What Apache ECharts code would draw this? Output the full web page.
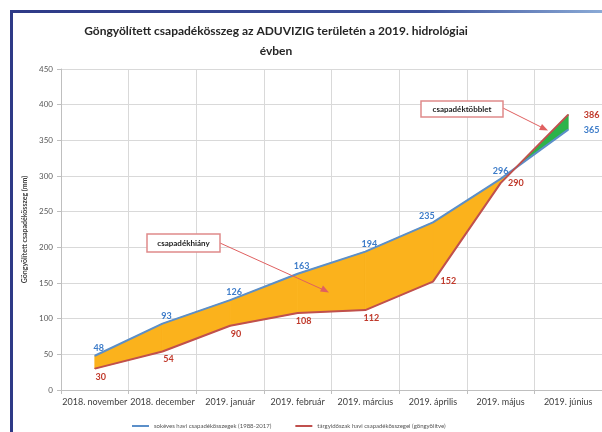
<!DOCTYPE html>
<html>
<head>
<meta charset="utf-8">
<script src="https://cdn.jsdelivr.net/npm/echarts@6/dist/echarts.min.js"></script>
<style>
  html, body { margin: 0; padding: 0; background: #fff; }
  #chart { width: 602px; height: 432px; }
</style>
</head>
<body>
<div id="chart"></div>
<script>
// honapok es ertekek (mm)
var months = ['2018. november', '2018. december', '2019. január', '2019. február',
  '2019. március', '2019. április', '2019. május', '2019. június'];
var longTerm = [48, 93, 126, 163, 194, 235, 296, 365];
var current = [30, 54, 90, 108, 112, 152, 290, 386];
var yTicks = { min: 0, max: 450, interval: 50 };

var FONT = 'Lato';
var BLUE = '#5b8fc9';
var RED = '#c0504d';
var ORANGE = '#fbb21c';
var GREEN = '#2db34a';

// szakaszok a kitolteshez
var segments = [];
for (var i = 0; i < months.length - 1; i++) {
  segments.push([i, longTerm[i], current[i], longTerm[i + 1], current[i + 1]]);
}

function poly(points, color) {
  return { type: 'polygon', shape: { points: points }, style: { fill: color, stroke: color, lineWidth: 0.8 } };
}

function renderBand(params, api) {
  var i = api.value(0);
  var b0 = api.coord([i, api.value(1)]), r0 = api.coord([i, api.value(2)]);
  var b1 = api.coord([i + 1, api.value(3)]), r1 = api.coord([i + 1, api.value(4)]);
  var d0 = api.value(1) - api.value(2), d1 = api.value(3) - api.value(4);
  var children = [];
  if (d0 * d1 >= 0) {
    children.push(poly([b0, b1, r1, r0], d0 + d1 >= 0 ? ORANGE : GREEN));
  } else {
    var t = d0 / (d0 - d1);
    var c = [b0[0] + (b1[0] - b0[0]) * t, b0[1] + (b1[1] - b0[1]) * t];
    children.push(poly([b0, c, r0], d0 > 0 ? ORANGE : GREEN));
    children.push(poly([c, b1, r1], d1 > 0 ? ORANGE : GREEN));
  }
  return { type: 'group', children: children };
}

// cimkek elhelyezese
var blueLabel = { 5: { offset: [-6, 2] }, 6: { offset: [0, 0] }, 7: { position: 'right', offset: [12, 0] } };
var redLabel = { 5: { position: 'right', offset: [4, 0] }, 6: { position: 'right', offset: [4, 0] }, 7: { position: 'right', offset: [12, 0] } };

function withLabels(values, extra) {
  return values.map(function (v, i) {
    return extra[i] ? { value: v, label: extra[i] } : v;
  });
}

var labelBase = { fontFamily: FONT, fontSize: 9, fontWeight: 'bold', distance: 3 };

var chart = echarts.init(document.getElementById('chart'), null, { renderer: 'canvas' });
chart.setOption({
  animation: false,
  backgroundColor: '#fff',
  title: {
    text: 'Göngyölített csapadékösszeg az ADUVIZIG területén a 2019. hidrológiai\névben',
    left: 271,
    textAlign: 'center',
    top: 16,
    textStyle: { fontFamily: FONT, fontSize: 12, fontWeight: 'bold', color: '#262626', lineHeight: 20 }
  },
  legend: {
    data: ['sokéves havi csapadékösszegek (1988-2017)', 'tárgyidőszak havi csapadékösszegei (göngyölítve)'],
    left: 127,
    top: 418,
    itemWidth: 17,
    itemHeight: 2,
    itemGap: 24,
    icon: 'rect',
    textStyle: { fontFamily: FONT, fontSize: 6, color: '#555' }
  },
  grid: { left: 61, right: -3, top: 69, bottom: 42 },
  xAxis: {
    type: 'category',
    data: months,
    boundaryGap: true,
    axisLine: { lineStyle: { color: '#bfbfbf' } },
    axisTick: { show: true, length: 4, lineStyle: { color: '#bfbfbf' } },
    splitLine: { show: true, lineStyle: { color: '#d9d9d9' } },
    axisLabel: { fontFamily: FONT, fontSize: 9, color: '#404040', margin: 8, interval: 0 }
  },
  yAxis: {
    type: 'value',
    min: yTicks.min,
    max: yTicks.max,
    interval: yTicks.interval,
    name: 'Göngyölített csapadékösszeg (mm)',
    nameLocation: 'middle',
    nameRotate: 90,
    nameGap: 30,
    nameTextStyle: { fontFamily: FONT, fontSize: 7, fontWeight: 'bold', color: '#404040' },
    axisLine: { show: true, lineStyle: { color: '#bfbfbf' } },
    axisTick: { show: true, length: 4, lineStyle: { color: '#bfbfbf' } },
    splitLine: { lineStyle: { color: '#d9d9d9' } },
    axisLabel: { fontFamily: FONT, fontSize: 8, color: '#595959', margin: 8 }
  },
  series: [
    {
      type: 'custom',
      name: 'band',
      data: segments,
      encode: { x: 0, y: [1, 2, 3, 4] },
      renderItem: renderBand,
      z: 1,
      silent: true
    },
    {
      type: 'line',
      name: 'sokéves havi csapadékösszegek (1988-2017)',
      data: withLabels(longTerm, blueLabel),
      color: BLUE,
      symbol: 'circle',
      symbolSize: 1,
      showAllSymbol: true,
      lineStyle: { width: 2, color: BLUE },
      label: Object.assign({ show: true, position: 'top', offset: [4, 0], color: '#3d7cc9' }, labelBase),
      z: 3
    },
    {
      type: 'line',
      name: 'tárgyidőszak havi csapadékösszegei (göngyölítve)',
      data: withLabels(current, redLabel),
      color: RED,
      symbol: 'circle',
      symbolSize: 1,
      showAllSymbol: true,
      lineStyle: { width: 2, color: RED },
      label: Object.assign({ show: true, position: 'bottom', offset: [6, 0], color: '#c0392b' }, labelBase),
      z: 3
    }
  ],
  graphic: [
    // keret
    { type: 'rect', shape: { x: 10, y: 10, width: 3, height: 422 }, style: { fill: '#2e3a87' } },
    {
      type: 'rect', shape: { x: 10, y: 10, width: 592, height: 3 },
      style: { fill: new echarts.graphic.LinearGradient(0, 0, 1, 0, [
        { offset: 0, color: '#2e3a87' }, { offset: 0.7, color: '#3b4f9a' }, { offset: 1, color: '#8aaad6' }]) }
    },
    // csapadekhiany
    { type: 'line', shape: { x1: 220, y1: 243, x2: 326, y2: 291 }, style: { stroke: '#e06060', lineWidth: 1 }, z: 10 },
    { type: 'polygon', shape: { points: [[329, 292.5], [320, 291.5], [323, 285.5]] }, style: { fill: '#e06060' }, z: 10 },
    { type: 'rect', shape: { x: 147, y: 234, width: 73, height: 18 }, style: { fill: '#fff', stroke: '#e08a8a', lineWidth: 1.5 }, z: 10 },
    { type: 'text', x: 183.5, y: 243, style: { text: 'csapadékhiány', fontFamily: FONT, fontSize: 8, fontWeight: 'bold', fill: '#222', align: 'center', verticalAlign: 'middle' }, z: 11 },
    // csapadektobblet
    { type: 'line', shape: { x1: 503, y1: 108, x2: 545, y2: 129 }, style: { stroke: '#e06060', lineWidth: 1 }, z: 10 },
    { type: 'polygon', shape: { points: [[548, 130.5], [539, 130], [542, 124]] }, style: { fill: '#e06060' }, z: 10 },
    { type: 'rect', shape: { x: 421, y: 101, width: 82, height: 16 }, style: { fill: '#fff', stroke: '#e08a8a', lineWidth: 1.5 }, z: 10 },
    { type: 'text', x: 462, y: 109, style: { text: 'csapadéktöbblet', fontFamily: FONT, fontSize: 8, fontWeight: 'bold', fill: '#222', align: 'center', verticalAlign: 'middle' }, z: 11 }
  ]
});
</script>
</body>
</html>
